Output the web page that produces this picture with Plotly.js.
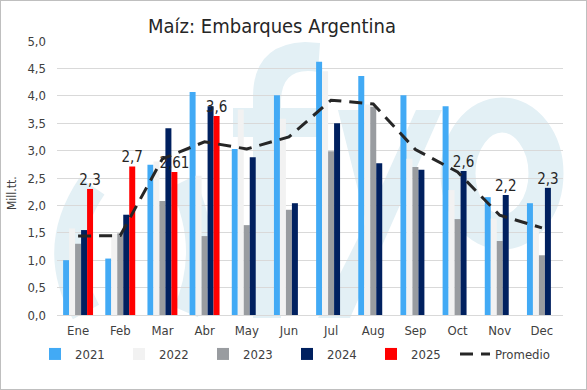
<!DOCTYPE html>
<html>
<head>
<meta charset="utf-8">
<script src="https://cdn.plot.ly/plotly-3.0.1.min.js"></script>
<style>
  html, body { margin: 0; padding: 0; background: #ffffff; }
  #wrap { position: relative; width: 587px; height: 390px; }
  #chart { width: 587px; height: 390px; }
  #frame { position: absolute; left: 0; top: 0; width: 585px; height: 388px; border: 1px solid #bfbfbf; pointer-events: none; }
</style>
</head>
<body>
<div id="wrap"><div id="chart"></div><div id="frame"></div></div>
<script>
// ---- data ----
const months = ['Ene','Feb','Mar','Abr','May','Jun','Jul','Aug','Sep','Oct','Nov','Dec'];
const v2021 = [1.00, 1.03, 2.74, 4.07, 3.03, 4.01, 4.62, 4.36, 4.01, 3.81, 2.15, 2.04];
const v2022 = [1.58, 1.48, 2.80, 2.54, 3.75, 3.58, 4.45, 3.84, 2.85, 2.28, 1.76, 1.60];
const v2023 = [1.30, 1.49, 2.08, 1.44, 1.64, 1.92, 2.99, 3.80, 2.70, 1.75, 1.35, 1.09];
const v2024 = [1.55, 1.83, 3.41, 3.81, 2.88, 2.04, 3.50, 2.77, 2.65, 2.63, 2.19, 2.32];
const v2025 = [2.30, 2.71, 2.61, 3.63, null, null, null, null, null, null, null, null];
const promedio = [1.44, 1.45, 2.85, 3.16, 3.03, 3.25, 3.92, 3.85, 3.02, 2.61, 1.82, 1.59];
const labels2024 = ['', '', '', '', '', '', '', '', '', '2,6', '2,2', '2,3'];
const labels2025 = ['2,3', '2,7', '2,61', '3,6', '', '', '', '', '', '', '', ''];

// ---- styling ----
const FONT = '"Liberation Sans Narrow", "DejaVu Sans Condensed", Roboto, sans-serif';
const TXT = '#404040';
const W = 587, H = 390, L = 57, R = 24, T = 41, B = 75;
const PW = W - L - R, PH = H - T - B;
const px = x => (x - L) / PW;
const py = y => (H - B - y) / PH;
const pt = (x, y) => px(x).toFixed(4) + ',' + py(y).toFixed(4);

function bar(name, y, color, text) {
  const t = {
    type: 'bar', name: name, x: months, y: y,
    marker: { color: color, line: { width: 0 } },
    hoverinfo: 'skip'
  };
  if (text) {
    t.text = text;
    t.textposition = 'outside';
    t.textangle = 0;
    t.constraintext = 'none';
    t.cliponaxis = false;
    t.textfont = { family: FONT, size: 15, color: '#262626' };
  }
  return t;
}

const traces = [
  bar('2021', v2021, '#42aaf5'),
  bar('2022', v2022, '#f2f2f2'),
  bar('2023', v2023, '#999ca0'),
  bar('2024', v2024, '#00205f', labels2024),
  bar('2025', v2025, '#ff0000', labels2025),
  {
    type: 'scatter', mode: 'lines', name: 'Promedio', x: months, y: promedio,
    line: { color: '#262626', width: 3, dash: '13px,8px' },
    legendwidth: 70,
    hoverinfo: 'skip'
  }
];

// faint "fyo" watermark drawn behind the grid (decoration only)
const WM = '#e3f0f5';
const wm = [
  // f
  { type: 'path', layer: 'below', xref: 'paper', yref: 'paper', fillcolor: WM, line: { width: 0 },
    path: 'M' + pt(253, 318) + ' L' + pt(253, 95) + ' Q' + pt(254, 44) + ' ' + pt(305, 42) +
          ' L' + pt(320, 43) + ' L' + pt(318, 72) + ' Q' + pt(282, 66) + ' ' + pt(281, 100) +
          ' L' + pt(281, 108) + ' L' + pt(320, 108) + ' L' + pt(318, 137) + ' L' + pt(281, 137) +
          ' L' + pt(281, 318) + ' Z' },
  { type: 'path', layer: 'below', xref: 'paper', yref: 'paper', fillcolor: WM, line: { width: 0 },
    path: 'M' + pt(233, 108) + ' L' + pt(253, 108) + ' L' + pt(253, 137) + ' L' + pt(233, 137) + ' Z' },
  // y
  { type: 'path', layer: 'below', xref: 'paper', yref: 'paper', fillcolor: WM, line: { width: 0 },
    path: 'M' + pt(338, 110) + ' L' + pt(362, 110) + ' L' + pt(381, 188) + ' L' + pt(416, 110) +
          ' L' + pt(442, 110) + ' L' + pt(350, 318) + ' L' + pt(318, 318) + ' L' + pt(366, 222) + ' Z' },
  // o
  { type: 'circle', layer: 'below', xref: 'paper', yref: 'paper',
    x0: px(458), x1: px(546), y0: py(232), y1: py(115),
    line: { color: WM, width: 35 }, fillcolor: 'rgba(0,0,0,0)' },
  // left crescents
  { type: 'path', layer: 'below', xref: 'paper', yref: 'paper', line: { color: WM, width: 30 },
    path: 'M' + pt(92, 186) + ' Q' + pt(50, 248) + ' ' + pt(86, 312) },
  { type: 'path', layer: 'below', xref: 'paper', yref: 'paper', line: { color: WM, width: 26 },
    path: 'M' + pt(182, 182) + ' Q' + pt(214, 248) + ' ' + pt(186, 312) }
];

const layout = {
  width: W, height: H,
  margin: { l: L, r: R, t: T, b: B, pad: 0 },
  paper_bgcolor: '#ffffff', plot_bgcolor: 'rgba(0,0,0,0)',
  separators: ',.',
  font: { family: FONT, color: TXT, size: 13 },
  title: {
    text: 'Maíz: Embarques Argentina',
    font: { family: FONT, size: 20, color: '#262626' },
    x: 272 / W, xanchor: 'center', xref: 'container',
    y: 1 - 26 / H, yanchor: 'middle', yref: 'container'
  },
  barmode: 'group', bargap: 0.29, bargroupgap: 0,
  showlegend: true,
  legend: {
    orientation: 'h', x: px(35), xanchor: 'left', y: py(354), yanchor: 'middle',
    font: { family: FONT, size: 13, color: TXT },
    entrywidth: 39, entrywidthmode: 'pixels', itemwidth: 30,
    traceorder: 'normal', bgcolor: 'rgba(0,0,0,0)'
  },
  xaxis: {
    type: 'category', showgrid: false, zeroline: false,
    showline: true, linecolor: '#d9d9d9', linewidth: 1,
    ticks: '', ticklabelstandoff: 3,
    tickfont: { family: FONT, size: 13, color: TXT }, fixedrange: true
  },
  yaxis: {
    range: [0, 5], dtick: 0.5, tick0: 0, tickformat: '.1f',
    showgrid: true, gridcolor: '#d9d9d9', gridwidth: 1, zeroline: false,
    showline: false, ticks: '', ticklabelstandoff: 10,
    tickfont: { family: FONT, size: 13, color: TXT }, fixedrange: true
  },
  shapes: wm,
  annotations: [
    { text: 'Mill.tt.', xref: 'paper', yref: 'paper', x: px(12), y: py(193),
      xanchor: 'center', yanchor: 'middle', textangle: -90, showarrow: false,
      font: { family: FONT, size: 12, color: TXT } }
  ]
};

Plotly.newPlot('chart', traces, layout, { staticPlot: true, displayModeBar: false });
</script>
</body>
</html>
